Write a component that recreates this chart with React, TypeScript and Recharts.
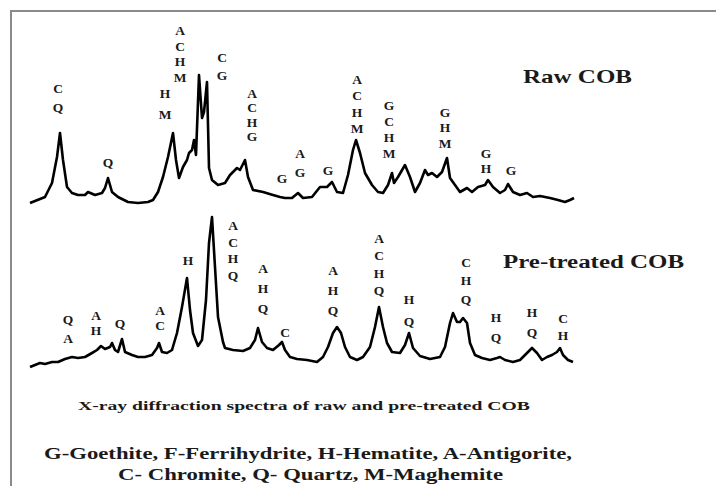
import React from "react";
import { ComposedChart, Line, Scatter, XAxis, YAxis, Customized } from "recharts";

// ---- Raw COB spectrum (2θ, relative intensity) ----
const rawTwoTheta = [
  6.25, 8.125, 9.0, 9.625, 10.0, 10.375, 10.875, 11.5, 12.25, 13.125, 13.5, 14.375, 15.25, 15.625, 16.0, 16.5,
  17.25, 18.5, 19.75, 21.0, 21.625, 22.25, 22.875, 23.5, 24.125, 24.5, 24.875, 25.375, 25.875, 26.125, 26.5,
  26.75, 27.0, 27.375, 27.75, 28.0, 28.375, 28.625, 29.0, 29.75, 30.625, 31.25, 32.125, 32.5, 33.125, 33.5,
  34.125, 35.375, 36.625, 37.5, 38.125, 39.0, 39.75, 40.375, 41.5, 42.5, 43.375, 44.0, 44.625, 45.375, 46.0,
  46.625, 47.0, 47.5, 48.125, 49.0, 49.75, 50.375, 51.0, 51.5, 51.75, 52.25, 53.125, 53.75, 54.375, 55.0,
  55.625, 56.0, 56.5, 57.125, 57.75, 58.375, 58.75, 59.375, 60.0, 60.875, 61.5, 62.25, 63.125, 63.5, 64.125,
  65.0, 65.625, 66.0, 66.625, 67.5, 68.375, 69.125, 70.0, 71.25, 72.25, 73.125, 73.75, 74.25,
];
const rawCounts = [
  3.5, 6.5, 13.5, 26.5, 38.5, 25, 11.5, 8.5, 7.5, 7.5, 9, 7.5, 8.5, 11, 16, 9,
  6.5, 4, 3.5, 4, 5, 9, 16.5, 26.5, 38.5, 25, 16, 21.5, 25, 28.5, 30,
  35, 27.5, 67.5, 46, 49, 64, 21, 15, 12.5, 13.5, 17.5, 21, 20, 25, 16.5,
  10, 9, 7.5, 6.5, 6, 6, 8.5, 6, 6.5, 11.5, 11.5, 14, 9, 8.5, 17.5,
  30, 35, 28.5, 18.5, 12.5, 9, 8.5, 12.5, 18.5, 13.5, 16.5, 22.5, 16.5, 9, 13.5,
  20, 17.5, 18.5, 16.5, 19, 26, 16, 12.5, 9, 11, 9, 11.5, 12.5, 15, 11.5,
  8.5, 10, 13, 9, 7.5, 8.5, 6.5, 7, 6, 5, 4, 5, 6,
];

// ---- Pre-treated COB spectrum ----
const preTwoTheta = [
  6.25, 7.5, 8.125, 9.0, 9.75, 10.625, 11.5, 12.25, 13.125, 14.0, 14.625, 15.125, 15.625, 16.25, 16.5, 16.875,
  17.25, 17.75, 18.125, 19.0, 19.75, 20.625, 21.5, 22.125, 22.375, 22.75, 23.375, 24.0, 24.625, 25.25, 25.875,
  26.25, 26.625, 27.25, 27.75, 28.25, 28.625, 29.0, 29.375, 29.75, 30.375, 30.625, 31.625, 32.875, 33.75,
  34.375, 34.75, 35.25, 35.875, 36.625, 37.375, 37.75, 38.125, 38.75, 39.625, 40.875, 42.125, 42.875, 43.5,
  44.125, 44.625, 45.125, 45.625, 46.25, 47.125, 47.875, 48.75, 49.375, 49.875, 50.375, 50.875, 51.5, 52.5,
  53.125, 53.625, 54.125, 55.0, 56.25, 57.5, 58.125, 58.75, 59.125, 59.625, 60.0, 60.375, 60.875, 61.25,
  61.875, 62.75, 63.75, 64.625, 65.0, 65.625, 66.625, 67.5, 68.375, 69.0, 69.625, 70.25, 70.875, 71.5,
  72.125, 72.5, 72.875, 73.5, 74.125,
];
const preCounts = [
  1.5, 3.5, 3, 4, 4, 5.5, 6.5, 6, 6.5, 8.5, 10, 12, 10.5, 11.5, 13.5, 10,
  9, 15.5, 9, 7.5, 6.5, 6.5, 7.5, 11, 13.5, 9, 8.5, 10, 18.5, 31.5, 46,
  30, 18.5, 12, 15, 35, 63.5, 76.5, 51.5, 26.5, 14, 11, 10, 9.5, 11,
  15, 21, 14, 11, 10, 12.5, 14, 10, 6.5, 5.5, 5, 4, 6.5, 11.5,
  18.5, 21.5, 18.5, 11.5, 6.5, 5, 6.5, 11.5, 21.5, 31.5, 21.5, 13.5, 9, 8.5,
  12.5, 18.5, 11, 7, 5.5, 6.5, 11.5, 23.5, 28.5, 24, 24, 26, 23.5, 13.5,
  7.5, 6, 5, 6, 6.5, 5, 4, 5, 8.5, 11, 8.5, 5, 6.5, 7.5,
  9, 11, 7.5, 5, 4,
];

// ---- Phase labels: 2θ, letters, top and bottom label heights (intensity units) ----
const rawLabelTheta = [9.75, 16.0, 23.125, 25.0, 30.25, 34.0, 37.75, 40.0, 43.5, 47.125, 51.125, 58.125, 63.25, 66.375];
const rawLabelText = ["CQ", "Q", "HM", "ACHM", "CG", "ACHG", "G", "AG", "G", "ACHM", "GCHM", "GHM", "GH", "G"];
const rawLabelTop = [61, 24, 58.5, 90, 76.5, 58.5, 16, 28.5, 20, 65.5, 52.5, 49, 28.5, 20];
const rawLabelBottom = [51.5, 24, 48, 66.5, 67.5, 37, 16, 19, 20, 41, 28.5, 33.5, 21, 20];

const preLabelTheta = [11.0, 14.5, 17.5, 22.5, 26.0, 31.625, 35.375, 38.125, 44.125, 49.875, 53.625, 60.75, 64.5, 69.0, 72.875];
const preLabelText = ["QA", "AH", "Q", "AC", "H", "ACHQ", "AHQ", "C", "AHQ", "ACHQ", "HQ", "CHQ", "HQ", "HQ", "CH"];
const preLabelTop = [25.5, 27.5, 23.5, 30, 55, 72.5, 51, 19, 50, 66, 35.5, 54, 26.5, 29, 26];
const preLabelBottom = [16, 20, 23.5, 22.5, 55, 47.5, 31, 19, 30, 40, 24.5, 35.5, 16.5, 19, 17.5];

const seriesNames = ["Raw COB", "Pre-treated COB"];
const captionText = "X-ray diffraction spectra of raw and pre-treated COB";
const legendLines = [
  "G-Goethite, F-Ferrihydrite, H-Hematite, A-Antigorite,",
  "C- Chromite, Q- Quartz, M-Maghemite",
];

// vertical stacking offsets of the two patterns
const RAW_OFFSET = 100;
const PRE_OFFSET = 20;

const rawData = rawTwoTheta.map((t, i) => ({ t, y: rawCounts[i] + RAW_OFFSET }));
const preData = preTwoTheta.map((t, i) => ({ t, y: preCounts[i] + PRE_OFFSET }));

function buildLetters(theta: number[], text: string[], top: number[], bottom: number[], offset: number) {
  const out: { t: number; y: number; ch: string }[] = [];
  theta.forEach((t, i) => {
    const letters = text[i].split("");
    const n = letters.length;
    letters.forEach((ch, j) => {
      const v = n === 1 ? top[i] : top[i] - (j * (top[i] - bottom[i])) / (n - 1);
      out.push({ t, y: v + offset, ch });
    });
  });
  return out;
}

const rawLetterData = buildLetters(rawLabelTheta, rawLabelText, rawLabelTop, rawLabelBottom, RAW_OFFSET);
const preLetterData = buildLetters(preLabelTheta, preLabelText, preLabelTop, preLabelBottom, PRE_OFFSET);

const SERIF = '"Liberation Serif", "Times New Roman", serif';
const INK = "#1a1a1a";
const textStyle = { fontFamily: SERIF, fontWeight: 700 as const };

const LetterShape = (props: any) => {
  const { cx, cy, payload } = props;
  if (cx == null || cy == null) return null;
  return (
    <text x={cx} y={cy} dy="0.36em" textAnchor="middle" fontSize={13.5} fill={INK} style={textStyle}>
      {payload.ch}
    </text>
  );
};

const Annotations = () => (
  <g fill={INK}>
    <text x={523} y={76} dy="0.35em" fontSize={19} textLength={109} lengthAdjust="spacingAndGlyphs" style={textStyle}>
      {seriesNames[0]}
    </text>
    <text x={503} y={262} dy="0.35em" fontSize={18} textLength={181} lengthAdjust="spacingAndGlyphs" style={textStyle}>
      {seriesNames[1]}
    </text>
    <text x={78} y={405} dy="0.35em" fontSize={13.5} textLength={452} lengthAdjust="spacingAndGlyphs" style={textStyle}>
      {captionText}
    </text>
    <text x={44} y={453} dy="0.35em" fontSize={16.5} textLength={528} lengthAdjust="spacingAndGlyphs" style={textStyle}>
      {legendLines[0]}
    </text>
    <text x={118} y={474} dy="0.35em" fontSize={16.5} textLength={385} lengthAdjust="spacingAndGlyphs" style={textStyle}>
      {legendLines[1]}
    </text>
  </g>
);

export default function App() {
  return (
    <div style={{ position: "absolute", left: 0, top: 0, width: 716, height: 486, background: "#fff", overflow: "hidden" }}>
      <div
        style={{
          position: "absolute",
          left: 10,
          top: 10,
          width: 716,
          height: 486,
          borderTop: "2px solid #8a8a8a",
          borderLeft: "2px solid #8a8a8a",
        }}
      />
      <div style={{ position: "absolute", left: 0, top: 0 }}>
        <ComposedChart width={716} height={486} margin={{ top: 10, right: 96, bottom: 76, left: 20 }}>
          <XAxis type="number" dataKey="t" domain={[5, 80]} hide allowDataOverflow />
          <YAxis type="number" dataKey="y" domain={[0, 200]} hide allowDataOverflow />
          <Line
            data={rawData}
            dataKey="y"
            type="linear"
            stroke="#000"
            strokeWidth={2.6}
            dot={false}
            isAnimationActive={false}
            strokeLinejoin="round"
          />
          <Line
            data={preData}
            dataKey="y"
            type="linear"
            stroke="#000"
            strokeWidth={2.6}
            dot={false}
            isAnimationActive={false}
            strokeLinejoin="round"
          />
          <Scatter data={rawLetterData} dataKey="y" shape={LetterShape} isAnimationActive={false} />
          <Scatter data={preLetterData} dataKey="y" shape={LetterShape} isAnimationActive={false} />
          <Customized component={Annotations} />
        </ComposedChart>
      </div>
    </div>
  );
}
